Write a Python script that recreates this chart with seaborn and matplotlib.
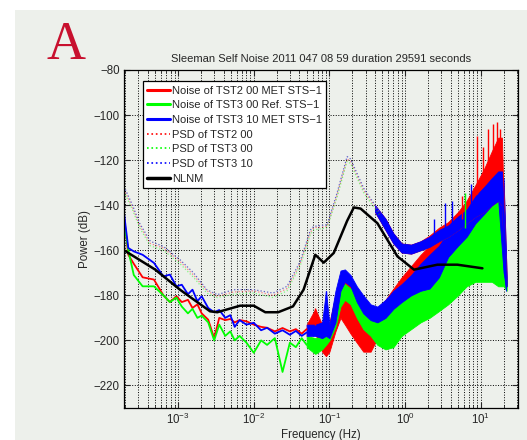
import matplotlib
matplotlib.use("Agg")
import matplotlib.pyplot as plt
import matplotlib.ticker as mticker
from matplotlib.lines import Line2D
from matplotlib.patches import Rectangle
import seaborn as sns

# ---- low frequency noise curves (Hz, dB) ----
noise_f = [1.93e-4, 2.2e-4, 2.6e-4, 3.4e-4, 4.8e-4, 6.4e-4, 7.8e-4, 9.5e-4, 1.12e-3, 1.35e-3,
           1.55e-3, 1.8e-3, 2.05e-3, 2.5e-3, 3.0e-3, 3.5e-3, 4.2e-3, 4.9e-3, 5.6e-3, 6.5e-3,
           8.0e-3, 1.0e-2, 1.25e-2, 1.5e-2, 1.9e-2, 2.4e-2, 3.0e-2, 3.6e-2, 4.3e-2, 5.0e-2]
noise_tst2_00 = [-145, -162, -166, -172, -173, -180, -183, -180.4, -183, -182,
                 -185.6, -184, -188, -190.8, -199, -190, -191, -190.5, -192, -191,
                 -191.5, -193, -194, -194.4, -196, -194.5, -196, -195, -197, -195]
noise_tst3_00 = [-147.2, -160, -171, -176, -176, -180, -183, -181, -185, -188,
                 -186, -190, -189, -192, -200, -193, -198, -196, -200, -198,
                 -201, -205.5, -200, -202, -199, -214, -201, -203, -199, -202]
noise_tst3_10 = [-143.5, -159, -160.5, -162, -165.6, -171.6, -170.8, -176, -175.3, -179.5,
                 -177.5, -182.6, -180.4, -185.6, -187.5, -186.5, -190, -188.8, -194, -191,
                 -193, -192.2, -195.5, -194.4, -197, -195.5, -197.5, -195.8, -198, -196.5]

# ---- high frequency noise envelopes (low / high edge, dB) ----
band_f = [0.05, 0.065, 0.08, 0.09, 0.1, 0.12, 0.14, 0.16, 0.19, 0.23, 0.28, 0.35, 0.43, 0.55,
          0.7, 0.9, 1.2, 1.6, 2.1, 2.8, 3.7, 5.0, 6.5, 8.5, 11, 14, 17, 20, 22]
tst2_00_lo = [-198, -197, -205, -207, -205, -196, -190, -193, -197, -201, -205, -205, -199, -190,
              -185, -181, -177, -172, -168, -164, -160, -156, -152, -148, -144, -140, -138, -160, -176]
tst2_00_hi = [-193, -186, -193, -194, -192, -180, -172, -173, -175, -180, -183, -186, -186, -182,
              -177, -172, -167, -162, -158, -154, -150, -146, -142, -138, -134, -130, -128, -130, -172]
tst3_00_lo = [-203, -206, -204, -202, -200, -194, -185, -182, -184, -190, -195, -198, -202, -204,
              -203, -198, -195, -192, -190, -187, -184, -180, -176, -174, -174, -174, -176, -176, -178]
tst3_00_hi = [-198, -199, -198, -196, -194, -182, -176, -175, -177, -180, -185, -190, -192, -190,
              -185, -180, -175, -170, -164, -160, -156, -150, -146, -140, -134, -130, -128, -150, -176]
tst3_10_lo = [-198, -198, -199, -198, -199, -192, -178, -174, -176, -183, -188, -191, -192, -190,
              -186, -183, -180, -178, -177, -172, -163, -158, -154, -148, -144, -140, -138, -170, -176]
tst3_10_hi = [-193, -193, -192, -178, -193, -178, -169, -168.5, -171, -176, -180, -184, -185, -182,
              -178, -175, -171, -166, -162, -158, -152, -150, -146, -140, -134, -130, -128, -128, -172]

# ---- PSD curves ----
psd_f = [1.93e-4, 2.5e-4, 3.1e-4, 4.3e-4, 6.4e-4, 1.06e-3, 1.6e-3, 2.4e-3, 3.3e-3, 5.4e-3, 1.0e-2,
         1.8e-2, 2.75e-2, 4.1e-2, 5.6e-2, 6.2e-2, 9.3e-2, 0.126, 0.171, 0.19, 0.284, 0.47]
psd_tst2_00 = [-133, -141, -149, -157, -159, -165, -171, -178, -180.5, -178.5, -178,
               -180, -177, -166, -152, -150, -149.5, -135.5, -119.5, -120.5, -133.5, -144]
psd_tst3_00 = [-134, -142, -150, -158, -160, -166, -172, -179, -181, -179.5, -179,
               -181, -178, -167, -153, -151, -150, -136.5, -120.5, -121.5, -134.5, -145]
psd_tst3_10 = [-131.7, -140, -148, -156, -158.3, -164.2, -170, -177.5, -179.7, -177.5, -177.5,
               -179, -176, -165, -151, -149.4, -148.7, -134.6, -118.4, -119.5, -132.5, -143.5]

psd_band_f = [0.4, 0.55, 0.7, 0.9, 1.2, 1.6, 2.1, 2.8, 3.7, 5.0, 6.5, 8.5, 11, 14, 17, 19, 20.5, 21.5]
psd2_lo = [-143, -151, -157, -161, -161.5, -160, -158.5, -156, -154, -151, -148, -145, -143, -140, -138, -140, -165, -176]
psd2_hi = [-140, -146, -152.5, -157, -157.5, -156, -153.5, -150, -147.5, -143, -138, -131, -124, -116, -110, -110, -150, -172]
psd10_lo = [-143, -151, -157, -161, -161.5, -160, -158.5, -156, -154, -151, -148, -145, -143, -140, -138, -140, -172, -178]
psd10_hi = [-140, -146, -152.5, -157, -157.5, -156, -154, -151, -149, -145, -142, -136, -132, -128, -125, -125, -150, -172]

# ---- single spikes ----
spike_f = [0.065, 0.091, 2.4, 3.4, 4.1, 5.6, 6.2, 7.4, 9.0, 10.8, 12.5, 14.5, 16.5, 18.0]
spike_base = [-193, -193, -155, -152, -150, -146, -150, -146, -135, -128, -125, -118, -112, -112]
spike_top = [-185.5, -178, -146, -139, -138, -136, -134.5, -130.6, -109.5, -114, -106, -104, -103, -106]
spike_color = ["red", "blue", "blue", "blue", "blue", "red", "lime", "blue", "red", "red", "red",
               "red", "red", "red"]

# ---- NLNM ----
nlnm_f = [1.93e-4, 5e-4, 1.06e-3, 2.65e-3, 3.3e-3, 6.6e-3, 1e-2, 1.42e-2, 2.1e-2, 3.3e-2, 4.55e-2,
          6.5e-2, 8.4e-2, 0.114, 0.171, 0.21, 0.258, 0.43, 0.79, 1.31, 2.67, 4.9, 10.5]
nlnm_db = [-160, -168.6, -177.5, -187.1, -187.5, -184.6, -184.6, -187.5, -187.5, -184.9, -177.5,
           -162, -165.5, -161.2, -147, -141, -141.5, -148, -162.7, -168.6, -166.4, -166.4, -168]

labels = ["Noise of TST2 00 MET STS\u22121", "Noise of TST3 00 Ref. STS\u22121",
          "Noise of TST3 10 MET STS\u22121", "PSD of TST2 00", "PSD of TST3 00",
          "PSD of TST3 10", "NLNM"]

BG = "#edf0eb"
W, H = 527, 440

sns.set_style("ticks")
plt.rcParams["font.family"] = ["Liberation Sans", "DejaVu Sans"]
plt.rcParams["mathtext.default"] = "regular"

fig = plt.figure(figsize=(W / 100, H / 100), dpi=100)
fig.patch.set_facecolor("white")
fig.patches.append(Rectangle((15 / W, 0), 1, 1 - 10 / H, transform=fig.transFigure,
                             facecolor=BG, edgecolor="none", zorder=-10))
ax = fig.add_axes([124 / W, 1 - 408 / H, (518 - 124) / W, (408 - 70) / H])
ax.set_facecolor(BG)
ax.set_xscale("log")

# noise
sns.lineplot(x=noise_f, y=noise_tst2_00, ax=ax, color="red", lw=1.3, estimator=None, sort=False)
sns.lineplot(x=noise_f, y=noise_tst3_00, ax=ax, color="lime", lw=1.3, estimator=None, sort=False)
sns.lineplot(x=noise_f, y=noise_tst3_10, ax=ax, color="blue", lw=1.3, estimator=None, sort=False)
ax.fill_between(band_f, tst2_00_lo, tst2_00_hi, color="red", lw=0.6)
ax.fill_between(band_f, tst3_00_lo, tst3_00_hi, color="lime", lw=0.6)
ax.fill_between(band_f, tst3_10_lo, tst3_10_hi, color="blue", lw=0.6)

# psd
sns.lineplot(x=psd_f, y=psd_tst2_00, ax=ax, color="red", lw=0.9, ls=":", estimator=None, sort=False, alpha=0.45)
sns.lineplot(x=psd_f, y=psd_tst3_00, ax=ax, color="lime", lw=0.9, ls=":", estimator=None, sort=False, alpha=0.45)
sns.lineplot(x=psd_f, y=psd_tst3_10, ax=ax, color="#6060c8", lw=0.9, ls=":", estimator=None, sort=False)
ax.fill_between(psd_band_f, psd2_lo, psd2_hi, color="red", lw=0.6)
ax.fill_between(psd_band_f, psd10_lo, psd10_hi, color="blue", lw=0.6)
ax.vlines(spike_f, spike_base, spike_top, colors=spike_color, lw=1.0)

sns.lineplot(x=nlnm_f, y=nlnm_db, ax=ax, color="black", lw=1.8, estimator=None, sort=False)

ax.set_xlim(1.93e-4, 31)
ax.set_ylim(-230, -80)
ax.set_yticks(list(range(-220, -79, 20)))
ax.xaxis.set_major_locator(mticker.LogLocator(base=10, numticks=12))
ax.xaxis.set_minor_locator(mticker.LogLocator(base=10, subs=range(2, 10), numticks=12))
ax.xaxis.set_minor_formatter(mticker.NullFormatter())
ax.set_axisbelow(True)
ax.grid(True, which="major", axis="both", ls=":", color="k", lw=0.7)
ax.grid(True, which="minor", axis="x", ls=":", color="k", lw=0.7)
ax.tick_params(which="both", direction="in", top=True, right=True, labelsize=8.3, pad=3)
ax.tick_params(which="major", length=4)
ax.tick_params(which="minor", length=2)
for s in ax.spines.values():
    s.set_color("black")
    s.set_linewidth(0.9)

ax.set_title("Sleeman Self Noise 2011 047 08 59 duration 29591 seconds", fontsize=8.0, pad=6)
ax.set_xlabel("Frequency (Hz)", fontsize=8.3, labelpad=1)
ax.set_ylabel("Power (dB)", fontsize=8.3, labelpad=2)

handles = [Line2D([], [], color="red", lw=2.2), Line2D([], [], color="lime", lw=2.2),
           Line2D([], [], color="blue", lw=2.2),
           Line2D([], [], color="red", lw=1.2, ls=":"), Line2D([], [], color="lime", lw=1.2, ls=":"),
           Line2D([], [], color="blue", lw=1.2, ls=":"), Line2D([], [], color="black", lw=2.5)]
leg = ax.legend(handles, labels, loc="upper left", bbox_to_anchor=(0.048, 0.967), borderaxespad=0,
                fontsize=8.0, handlelength=2.0, handletextpad=0.2, labelspacing=0.42,
                borderpad=0.4, fancybox=False, framealpha=1, facecolor="white", edgecolor="black")
leg.get_frame().set_linewidth(0.9)

fig.text(66 / W, 1 - 46 / H, "A", family="Liberation Serif", fontsize=39, color="#c8102e",
         ha="center", va="center")

fig.savefig("out.png", dpi=100)
